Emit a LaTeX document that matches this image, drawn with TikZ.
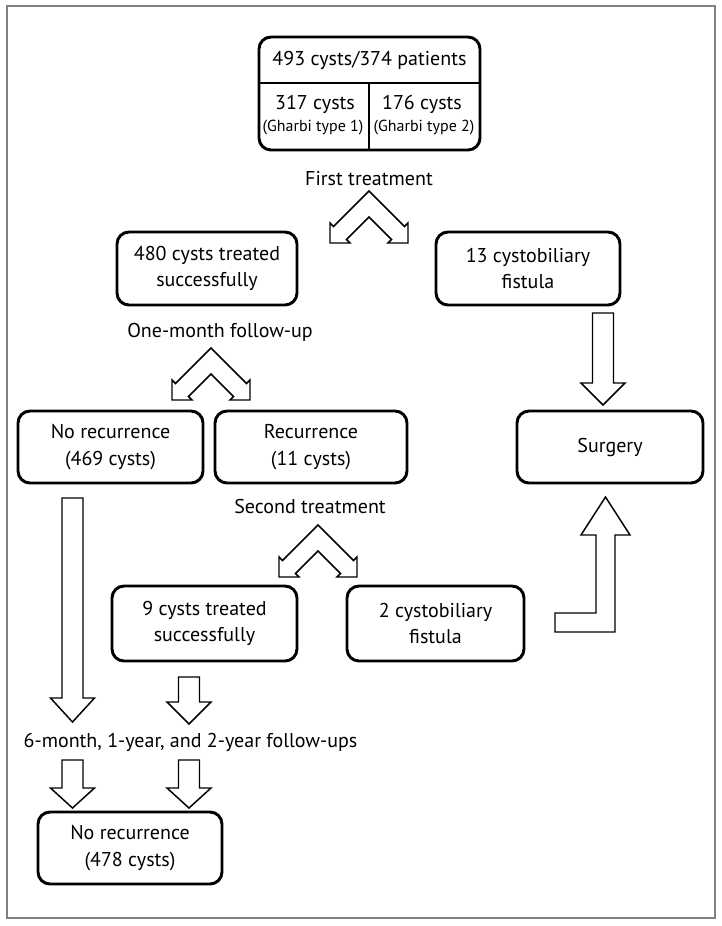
\documentclass[tikz,border=0pt]{standalone}
\usepackage{fontspec}
\setmainfont{PT Sans}
\newcommand{\blockdown}[4]{\draw[blk] ({#1-10.5},#2) -- ({#1+10.5},#2) -- ({#1+10.5},#3) -- ({#1+22},#3) -- (#1,#4) -- ({#1-22},#3) -- ({#1-10.5},#3) -- cycle;}
\begin{document}
\begin{tikzpicture}[x=0.75pt, y=-0.75pt,
    box/.style={rectangle, draw, rounded corners=9pt, line width=2.2pt, align=center, inner sep=0pt, font=\fontsize{15}{20}\selectfont},
    lbl/.style={font=\fontsize{15}{18}\selectfont},
    small/.style={font=\fontsize{12}{15}\selectfont},
    blk/.style={draw, line width=1.1pt, fill=white, line join=miter},
    pics/chev/.style={code={\draw[blk] (0,0) -- (-35.5,35.5) -- (-39,32) -- (-39,52) -- (-19,52) -- (-22.5,48.5) -- (0,26) -- (22.5,48.5) -- (19,52) -- (39,52) -- (39,32) -- (35.5,35.5) -- cycle;}}
]
\useasboundingbox (0,0) rectangle (722,926);
% Frame
\draw[gray, line width=1.1pt] (7,6) rectangle (715,918);

% Top box
\node[box, minimum width=165.75pt, minimum height=84.75pt] (top) at (369.5,93.5) {};
\draw[line width=2.2pt] (top.west |- 0,83) -- (top.east |- 0,83);
\draw[line width=2.2pt] (369,83) -- (369,150);
\node[lbl] (total) at (369.5,60) {493 cysts/374 patients};
\node[lbl] (n317) at (315,104) {317 cysts};
\node[small] (g1) at (313,128) {(Gharbi type 1)};
\node[lbl] (n176) at (422,104) {176 cysts};
\node[small] (g2) at (424,128) {(Gharbi type 2)};

% First treatment
\node[lbl] (first) at (369,179) {First treatment};
\pic at (369,191) {chev};
\node[box, minimum width=135pt, minimum height=54.75pt] (succ480) at (207,268.5) {480 cysts treated\\successfully};
\node[box, minimum width=138pt, minimum height=54.75pt] (fist13) at (528,268.5) {13 cystobiliary\\fistula};

% One-month follow-up
\node[lbl] (onemonth) at (220,332) {One-month follow-up};
\pic at (211,348) {chev};
\node[box, minimum width=138.75pt, minimum height=54pt] (norec469) at (110.5,447) {No recurrence\\(469 cysts)};
\node[box, minimum width=144pt, minimum height=54pt] (rec11) at (311,447) {Recurrence\\(11 cysts)};
\node[box, minimum width=139.5pt, minimum height=54pt] (surgery) at (610,447) {Surgery};
\blockdown{603}{313}{383}{405}

% Second treatment
\node[lbl] (second) at (310,506) {Second treatment};
\pic at (318,525) {chev};
\node[box, minimum width=138.75pt, minimum height=56.25pt] (succ9) at (204.5,623.5) {9 cysts treated\\successfully};
\node[box, minimum width=132.75pt, minimum height=56.25pt] (fist2) at (435.5,623.5) {2 cystobiliary\\fistula};
\draw[blk] (555,613) -- (596,613) -- (596,535) -- (581,535) -- (605.5,497) -- (630,535) -- (615,535) -- (615,632) -- (555,632) -- cycle;

% Follow-ups
\blockdown{72.5}{498}{698}{722}
\blockdown{189}{677}{702}{724}
\node[lbl, anchor=west] (later) at (19,742) {6-month, 1-year, and 2-year follow-ups};
\blockdown{72.5}{760}{788}{808}
\blockdown{189}{760}{788}{808}
\node[box, minimum width=138pt, minimum height=54pt] (norec478) at (130,848) {No recurrence\\(478 cysts)};
\end{tikzpicture}
\end{document}
